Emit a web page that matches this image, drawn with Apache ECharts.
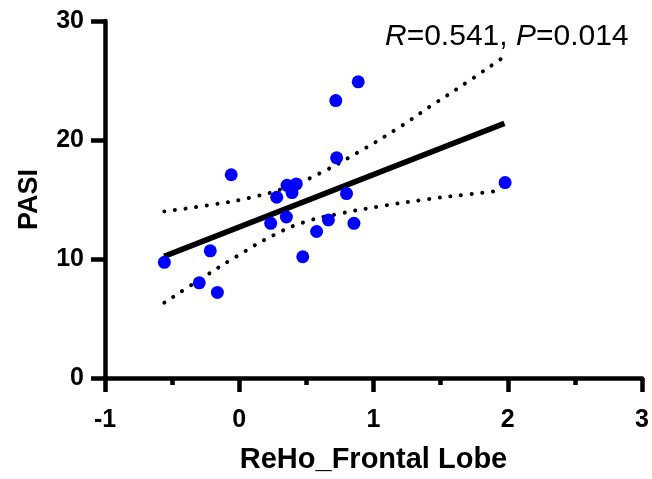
<!DOCTYPE html>
<html>
<head>
<meta charset="utf-8">
<script src="https://cdn.jsdelivr.net/npm/echarts@6/dist/echarts.min.js"></script>
<style>
html,body{margin:0;padding:0;background:#fff;}
#c{width:652px;height:479px;}
</style>
</head>
<body>
<div id="c"></div>
<script>
// ReHo values (x) and PASI scores (y)
const rehoX = [-0.558, -0.298, -0.216, -0.163, -0.060, 0.234, 0.279, 0.351, 0.356, 0.393, 0.425, 0.473, 0.576, 0.664, 0.719, 0.725, 0.799, 0.854, 0.886, 1.980];
const pasiY = [9.72, 8.0, 10.69, 7.19, 17.08, 13.0, 15.19, 13.53, 16.19, 15.58, 16.31, 10.19, 12.31, 13.28, 23.31, 18.5, 15.5, 13.0, 24.89, 16.42];
// fitted regression line endpoints
const fitX = [-0.56, 1.975];
const fitY = [10.22, 21.4];
// 95% confidence band (upper, lower)
const upperX = [-0.558, -0.242, 0.075, 0.377, 0.603, 0.881, 1.159, 1.424, 1.697, 1.959];
const upperY = [14.0, 14.5, 15.14, 16.11, 17.22, 18.94, 20.83, 22.83, 24.86, 26.89];
const lowerX = [-0.558, -0.285, -0.020, 0.261, 0.489, 0.722, 1.029, 1.347, 1.670, 1.959];
const lowerY = [6.33, 8.33, 10.22, 12.03, 13.11, 13.75, 14.39, 14.94, 15.39, 15.75];
const xTicks = {min: -1, max: 3, interval: 1};
const yTicks = {min: 0, max: 30, interval: 10};
const statsText = '{i|R}=0.541, {i|P}=0.014';

const pair = (xs, ys) => xs.map((x, i) => [x, ys[i]]);
const FONT = '"Liberation Sans", Arial, sans-serif';

const chart = echarts.init(document.getElementById('c'), null, {renderer: 'canvas'});
chart.setOption({
  animation: false,
  backgroundColor: '#fff',
  title: {
    text: statsText,
    left: 380,
    top: 17,
    textStyle: {
      fontFamily: FONT, fontSize: 30, fontWeight: 'normal', color: '#000',
      rich: { i: {fontFamily: FONT, fontSize: 30, fontStyle: 'italic', color: '#000'} }
    }
  },
  grid: {left: 105, right: 6, top: 21, bottom: 99, containLabel: false},
  xAxis: {
    type: 'value',
    min: xTicks.min, max: xTicks.max, interval: xTicks.interval,
    name: 'ReHo_Frontal Lobe',
    nameLocation: 'middle',
    nameGap: 67,
    nameTextStyle: {fontFamily: FONT, fontSize: 29, fontWeight: 'bold', color: '#000'},
    axisLine: {show: true, onZero: false, lineStyle: {color: '#000', width: 4.5}},
    axisTick: {show: true, inside: false, length: 14, lineStyle: {color: '#000', width: 4.5}},
    minorTick: {show: true, splitNumber: 2, length: 7, lineStyle: {color: '#000', width: 4.5}},
    axisLabel: {margin: 30, fontFamily: FONT, fontSize: 25, fontWeight: 'bold', color: '#000'},
    splitLine: {show: false}
  },
  yAxis: {
    type: 'value',
    min: yTicks.min, max: yTicks.max, interval: yTicks.interval,
    name: 'PASI',
    nameLocation: 'middle',
    nameGap: 62,
    nameTextStyle: {fontFamily: FONT, fontSize: 27, fontWeight: 'bold', color: '#000'},
    axisLine: {show: true, onZero: false, lineStyle: {color: '#000', width: 4.5}},
    axisTick: {show: true, inside: false, length: 14, lineStyle: {color: '#000', width: 4.5}},
    axisLabel: {margin: 21, fontFamily: FONT, fontSize: 25, fontWeight: 'bold', color: '#000'},
    splitLine: {show: false}
  },
  series: [
    {
      type: 'line', data: pair(upperX, upperY), smooth: true, symbol: 'none',
      lineStyle: {color: '#000', width: 4, type: [0.1, 10.6], cap: 'round'}, z: 2
    },
    {
      type: 'line', data: pair(lowerX, lowerY), smooth: true, symbol: 'none',
      lineStyle: {color: '#000', width: 4, type: [0.1, 10.6], cap: 'round'}, z: 2
    },
    {
      type: 'line', data: pair(fitX, fitY), symbol: 'none',
      lineStyle: {color: '#000', width: 5.5, cap: 'butt'}, z: 3
    },
    {
      type: 'scatter', data: pair(rehoX, pasiY), symbol: 'circle', symbolSize: 13,
      itemStyle: {color: '#0000ff', opacity: 1}, z: 4
    }
  ]
});
</script>
</body>
</html>
